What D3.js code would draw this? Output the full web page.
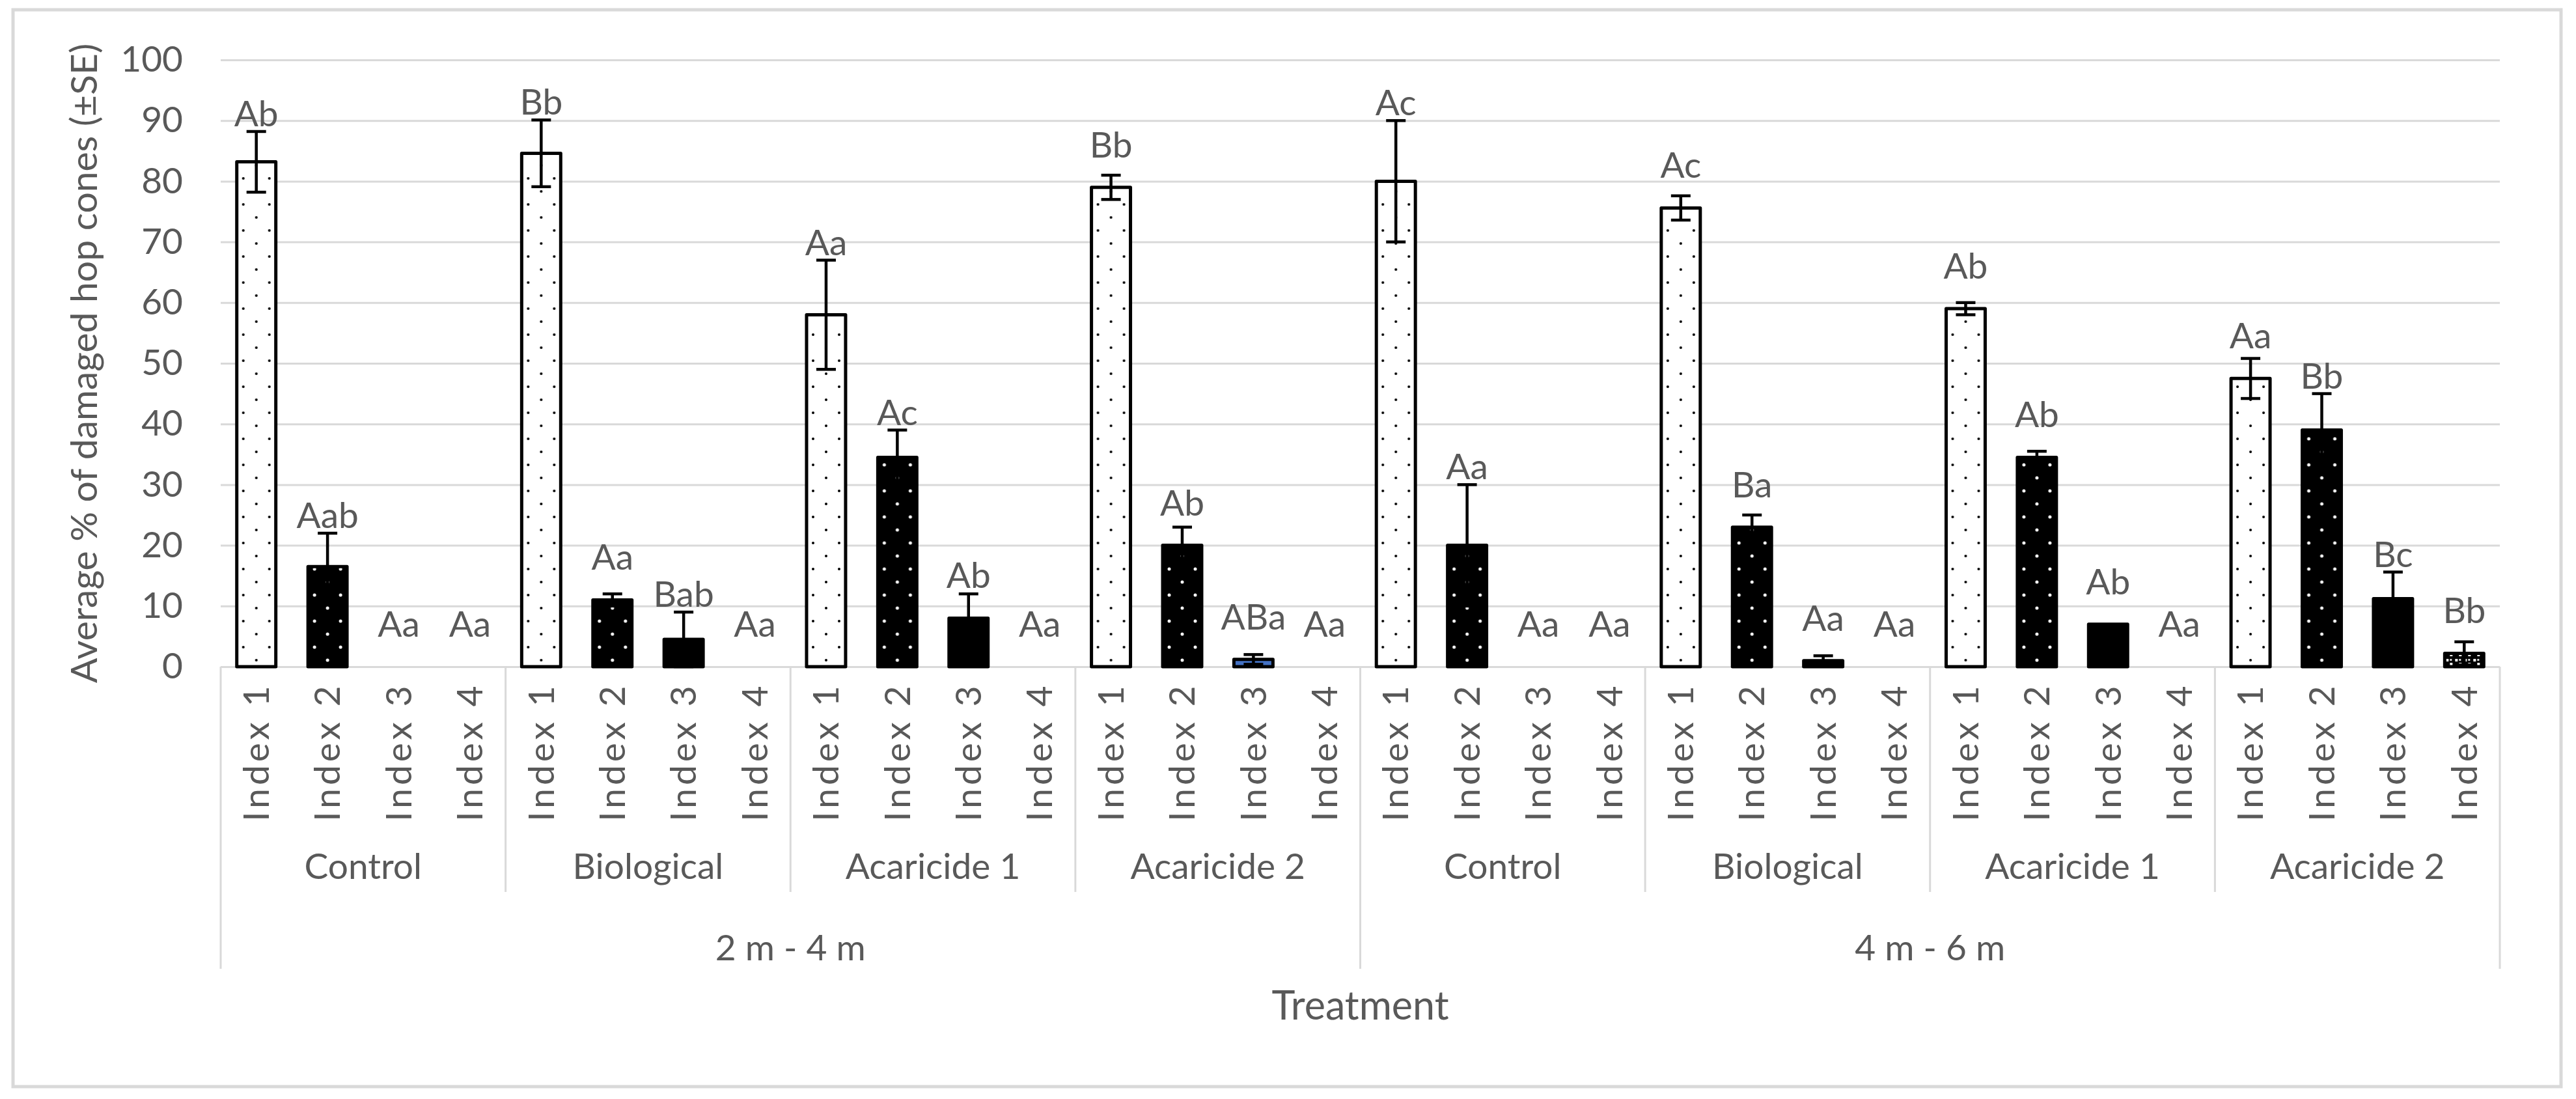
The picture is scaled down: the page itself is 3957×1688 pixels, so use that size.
<!DOCTYPE html>
<html>
<head>
<meta charset="utf-8">
<script src="https://cdn.jsdelivr.net/npm/d3@7"></script>
<style>
    body { margin: 0; background: #fff; }
    svg text { font-family: Lato, 'Noto Sans', sans-serif; fill: #595959; }
</style>
</head>
<body>
<svg id="chart"></svg>
<script>
'use strict';

// category levels (outer to inner)
var zones = ['2 m - 4 m', '4 m - 6 m'];
var treatments = ['Control', 'Biological', 'Acaricide 1', 'Acaricide 2'];
var indices = ['Index 1', 'Index 2', 'Index 3', 'Index 4'];
var yTicks = [0, 10, 20, 30, 40, 50, 60, 70, 80, 90, 100];

// mean % of damaged cones, one row per treatment, one column per index
var mean24 = [
    [83.2, 16.5, 0, 0],
    [84.6, 11, 4.5, 0],
    [58, 34.5, 8, 0],
    [79, 20, 1.2, 0]
];
var se24 = [
    [5, 5.5, 0, 0],
    [5.5, 1, 4.5, 0],
    [9, 4.5, 4, 0],
    [2, 3, 0.8, 0]
];
var mean46 = [
    [80, 20, 0, 0],
    [75.6, 23, 1, 0],
    [59, 34.5, 7, 0],
    [47.5, 39, 11.2, 2.2]
];
var se46 = [
    [10, 10, 0, 0],
    [2, 2, 0.8, 0],
    [1, 1, 0, 0],
    [3.3, 6, 4.4, 1.9]
];

// significance letters
var letters24 = [
    ['Ab', 'Aab', 'Aa', 'Aa'],
    ['Bb', 'Aa', 'Bab', 'Aa'],
    ['Aa', 'Ac', 'Ab', 'Aa'],
    ['Bb', 'Ab', 'ABa', 'Aa']
];
var letters46 = [
    ['Ac', 'Aa', 'Aa', 'Aa'],
    ['Ac', 'Ba', 'Aa', 'Aa'],
    ['Ab', 'Ab', 'Ab', 'Aa'],
    ['Aa', 'Bb', 'Bc', 'Bb']
];

var W = 3957, H = 1688;
var plot = {left: 339, right: 3840, top: 92, bottom: 1024};
var grey = '#d9d9d9';

/**
 * Flatten the small tables into one row per bar
 */
var byZone = [[mean24, se24, letters24], [mean46, se46, letters46]];
var rows = [];
zones.forEach(function (z, zi) {
    treatments.forEach(function (t, ti) {
        indices.forEach(function (ix, ii) {
            rows.push({
                key: z + '|' + t + '|' + ix,
                zone: zi, treatment: ti, index: ii,
                mean: byZone[zi][0][ti][ii],
                se: byZone[zi][1][ti][ii],
                letter: byZone[zi][2][ti][ii]
            });
        });
    });
});

var svg = d3.select('#chart')
    .attr('width', W)
    .attr('height', H);

svg.append('rect')
    .attr('width', W)
    .attr('height', H)
    .attr('fill', '#fff');

// chart border
svg.append('rect')
    .attr('x', 20)
    .attr('y', 15)
    .attr('width', 3914)
    .attr('height', 1654)
    .attr('fill', 'none')
    .attr('stroke', grey)
    .attr('stroke-width', 5);

var x = d3.scaleBand()
    .domain(rows.map(function (d) { return d.key; }))
    .range([plot.left, plot.right])
    .paddingInner(0.452)
    .paddingOuter(0.226);

var y = d3.scaleLinear()
    .domain([0, 100])
    .range([plot.bottom, plot.top]);

var step = x.step();

// value axis + gridlines
svg.append('g')
    .attr('transform', 'translate(' + plot.left + ',0)')
    .call(d3.axisLeft(y)
        .tickValues(yTicks)
        .tickSize(-(plot.right - plot.left))
        .tickPadding(58))
    .call(function (g) {
        g.attr('font-family', null).attr('font-size', null);
        g.select('.domain').remove();
        g.selectAll('.tick line')
            .attr('stroke', grey)
            .attr('stroke-width', 3);
        g.selectAll('.tick text')
            .attr('font-size', 55)
            .attr('fill', '#595959');
    });

/**
 * Patterns, anchored on each bar so the dots line up like Excel
 */
var defs = svg.append('defs');

function dotPattern(id, x0, bg, fg, r) {
    var p = defs.append('pattern')
        .attr('id', id)
        .attr('patternUnits', 'userSpaceOnUse')
        .attr('x', x0)
        .attr('y', plot.bottom)
        .attr('width', 40)
        .attr('height', 40);
    p.append('rect').attr('width', 40).attr('height', 40).attr('fill', bg);
    p.append('circle').attr('cx', 10).attr('cy', 10).attr('r', r).attr('fill', fg);
    p.append('circle').attr('cx', 30).attr('cy', 30).attr('r', r).attr('fill', fg);
}

function gridPattern(id, x0) {
    var p = defs.append('pattern')
        .attr('id', id)
        .attr('patternUnits', 'userSpaceOnUse')
        .attr('x', x0)
        .attr('y', plot.bottom)
        .attr('width', 14)
        .attr('height', 14);
    p.append('rect').attr('width', 14).attr('height', 14).attr('fill', '#000');
    p.append('rect').attr('x', 2).attr('y', 2).attr('width', 4).attr('height', 4).attr('fill', '#fff');
    p.append('rect').attr('x', 8).attr('y', 8).attr('width', 4).attr('height', 4).attr('fill', '#fff');
    p.append('rect').attr('x', 8).attr('y', 2).attr('width', 3).attr('height', 3).attr('fill', '#ddd');
}

var bars = rows.filter(function (d) { return d.mean > 0; });

bars.forEach(function (d, i) {
    d.id = 'fill-' + i;
    if (d.index === 0) {
        dotPattern(d.id, x(d.key), '#fff', '#000', 2);
    } else if (d.index === 1) {
        dotPattern(d.id, x(d.key), '#000', '#fff', 2.5);
    } else if (d.index === 3) {
        gridPattern(d.id, x(d.key));
    }
});

function barFill(d) {
    if (d.index === 2) {
        // the one index-3 bar left in Excel's default blue
        return (d.zone === 0 && d.treatment === 3) ? '#4472c4' : '#000';
    }
    return 'url(#' + d.id + ')';
}

// vertical dividers of the multi-level category axis
var dividers = d3.range(0, zones.length * treatments.length + 1);
svg.append('g')
    .selectAll('line')
    .data(dividers)
    .join('line')
    .attr('x1', function (k) { return plot.left + k * indices.length * step; })
    .attr('x2', function (k) { return plot.left + k * indices.length * step; })
    .attr('y1', plot.bottom)
    .attr('y2', function (k) { return k % treatments.length === 0 ? 1488 : 1370; })
    .attr('stroke', grey)
    .attr('stroke-width', 3);

// bars
svg.append('g')
    .selectAll('rect')
    .data(bars)
    .join('rect')
    .attr('x', function (d) { return x(d.key); })
    .attr('y', function (d) { return y(d.mean); })
    .attr('width', x.bandwidth())
    .attr('height', function (d) { return y(0) - y(d.mean); })
    .attr('fill', barFill)
    .attr('stroke', '#000')
    .attr('stroke-width', 5)
    .attr('stroke-linejoin', 'round');

// error bars
var errs = svg.append('g')
    .attr('stroke', '#000')
    .attr('stroke-width', 4.5)
    .selectAll('g')
    .data(bars.filter(function (d) { return d.se > 0; }))
    .join('g')
    .attr('transform', function (d) {
        return 'translate(' + (x(d.key) + x.bandwidth() / 2) + ',0)';
    });

errs.append('line')
    .attr('y1', function (d) { return y(d.mean - d.se); })
    .attr('y2', function (d) { return y(d.mean + d.se); });

errs.selectAll('line.cap')
    .data(function (d) { return [d.mean - d.se, d.mean + d.se]; })
    .join('line')
    .attr('class', 'cap')
    .attr('x1', -15)
    .attr('x2', 15)
    .attr('y1', function (v) { return y(v); })
    .attr('y2', function (v) { return y(v); });

// letters over each bar
svg.append('g')
    .selectAll('text')
    .data(rows)
    .join('text')
    .attr('x', function (d) { return x(d.key) + x.bandwidth() / 2; })
    .attr('y', function (d) {
        return Math.min(y(d.mean + d.se) - 8, y(d.mean) - 46);
    })
    .attr('text-anchor', 'middle')
    .attr('font-size', 55)
    .text(function (d) { return d.letter; });

// level 1: index labels, rotated
svg.append('g')
    .selectAll('text')
    .data(rows)
    .join('text')
    .attr('transform', function (d) {
        return 'translate(' + (x(d.key) + x.bandwidth() / 2) + ',1155) rotate(-90)';
    })
    .attr('dy', '0.35em')
    .attr('text-anchor', 'middle')
    .attr('font-size', 55)
    .attr('letter-spacing', 5)
    .text(function (d) { return indices[d.index]; });

// level 2: treatments
var groups = d3.cross(zones, treatments);
svg.append('g')
    .selectAll('text')
    .data(groups)
    .join('text')
    .attr('x', function (d, i) { return plot.left + (i + 0.5) * indices.length * step; })
    .attr('y', 1331)
    .attr('dy', '0.35em')
    .attr('text-anchor', 'middle')
    .attr('font-size', 55)
    .text(function (d) { return d[1]; });

// level 3: distance zones
svg.append('g')
    .selectAll('text')
    .data(zones)
    .join('text')
    .attr('x', function (d, i) { return plot.left + (i + 0.5) * treatments.length * indices.length * step; })
    .attr('y', 1456)
    .attr('dy', '0.35em')
    .attr('text-anchor', 'middle')
    .attr('font-size', 55)
    .text(function (d) { return d; });

// axis titles
svg.append('text')
    .attr('x', (plot.left + plot.right) / 2)
    .attr('y', 1545)
    .attr('dy', '0.35em')
    .attr('text-anchor', 'middle')
    .attr('font-size', 61)
    .text('Treatment');

svg.append('text')
    .attr('transform', 'translate(129,' + ((plot.top + plot.bottom) / 2) + ') rotate(-90)')
    .attr('dy', '0.35em')
    .attr('text-anchor', 'middle')
    .attr('font-size', 57)
    .text('Average % of damaged hop cones (±SE)');
</script>
</body>
</html>
